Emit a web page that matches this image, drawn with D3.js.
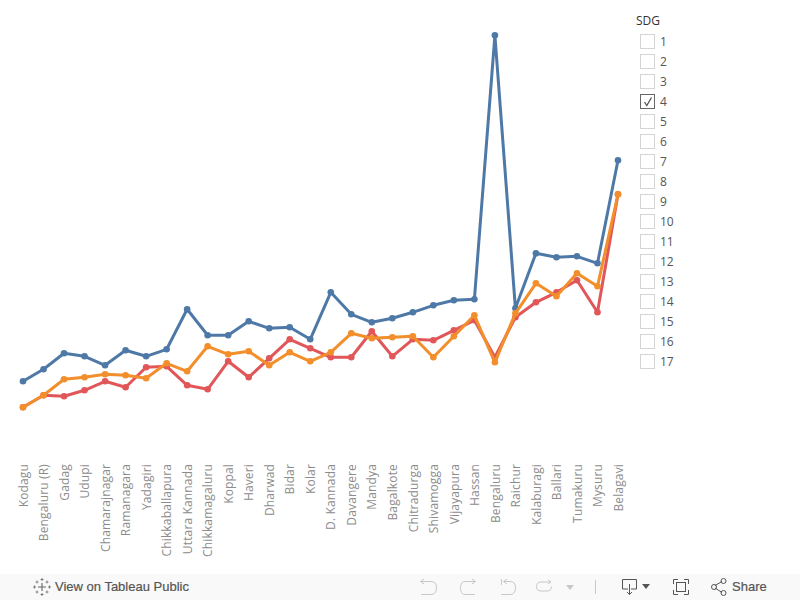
<!DOCTYPE html>
<html>
<head>
<meta charset="utf-8">
<script src="https://cdnjs.cloudflare.com/ajax/libs/d3/7.8.5/d3.min.js"></script>
<style>
    html, body { margin: 0; padding: 0; background: #fff; }
    svg { display: block; }
    text { font-family: "Open Sans", sans-serif; }
    .domain { display: none; }
    .tick line { display: none; }
</style>
</head>
<body>
<svg id="chart"></svg>
<script>
(function(){
    "use strict";

    var districts = ["Kodagu", "Bengaluru (R)", "Gadag", "Udupi", "Chamarajnagar", "Ramanagara", "Yadagiri",
        "Chikkaballapura", "Uttara Kannada", "Chikkamagaluru", "Koppal", "Haveri", "Dharwad", "Bidar", "Kolar",
        "D. Kannada", "Davangere", "Mandya", "Bagalkote", "Chitradurga", "Shivamogga", "Vijayapura", "Hassan",
        "Bengaluru", "Raichur", "Kalaburagi", "Ballari", "Tumakuru", "Mysuru", "Belagavi"];

    var blueValues = [25.2, 27.6, 30.8, 30.2, 28.4, 31.4, 30.2, 31.6, 39.6, 34.4, 34.4, 37.2, 35.8, 36, 33.6,
        43, 38.6, 37, 37.8, 39, 40.4, 41.4, 41.6, 94.4, 39.8, 50.8, 50, 50.2, 48.8, 69.4];
    var redValues = [20, 22.4, 22.2, 23.4, 25.2, 24, 28, 28.2, 24.4, 23.6, 29.2, 26, 29.8, 33.6, 31.8,
        30, 30, 35.2, 30.2, 33.6, 33.4, 35.4, 37.4, 30, 38, 41, 43, 45.4, 39, 62.6];
    var orangeValues = [20, 22.4, 25.6, 26, 26.6, 26.4, 25.8, 28.8, 27.2, 32.2, 30.6, 31.2, 28.4, 31, 29.2,
        31, 34.8, 33.8, 34, 34.2, 30, 34.2, 38.4, 29, 38.8, 44.8, 42.2, 46.8, 44.2, 62.6];

    var sdgGoals = ["1", "2", "3", "4", "5", "6", "7", "8", "9", "10", "11", "12", "13", "14", "15", "16", "17"];
    var checkedGoal = "4";

    var width = 800,
        height = 600;

    var svg = d3.select("svg#chart")
        .attr("width", width)
        .attr("height", height);

    var x = d3.scalePoint().domain(districts).range([23, 618]);
    var y = d3.scaleLinear().domain([20, 94.4]).range([407.3, 35.3]);

    // series, drawn back to front
    var series = [
        {color: "#4e79a7", values: blueValues},
        {color: "#e15759", values: redValues},
        {color: "#f28e2b", values: orangeValues}
    ];

    var line = d3.line()
        .x(function(d, i) { return x(districts[i]); })
        .y(function(d) { return y(d); });

    var groups = svg.selectAll("g.series")
        .data(series)
        .enter().append("g")
        .attr("class", "series");

    groups.append("path")
        .attr("d", function(d) { return line(d.values); })
        .attr("fill", "none")
        .attr("stroke", function(d) { return d.color; })
        .attr("stroke-width", 3)
        .attr("stroke-linejoin", "round");

    groups.selectAll("circle")
        .data(function(d) { return d.values.map(function(v) { return {v: v, color: d.color}; }); })
        .enter().append("circle")
        .attr("cx", function(d, i) { return x(districts[i]); })
        .attr("cy", function(d) { return y(d.v); })
        .attr("r", 3.3)
        .attr("fill", function(d) { return d.color; });

    // district labels
    var axis = svg.append("g")
        .attr("transform", "translate(0,460)")
        .call(d3.axisBottom(x).tickSize(0).tickPadding(0));

    axis.selectAll("text")
        .attr("transform", "rotate(-90)")
        .attr("x", -4)
        .attr("y", 0)
        .attr("dy", "0.35em")
        .style("text-anchor", "end")
        .style("font-family", "'Open Sans', sans-serif")
        .style("font-size", "12px")
        .style("letter-spacing", "0.15px")
        .attr("fill", "#8c8c8c");

    // SDG filter
    var legendY = d3.scalePoint().domain(sdgGoals).range([41, 361]);

    svg.append("text")
        .attr("x", 636)
        .attr("y", 25)
        .attr("font-size", 12)
        .attr("fill", "#333")
        .text("SDG");

    var rows = svg.selectAll("g.goal")
        .data(sdgGoals)
        .enter().append("g")
        .attr("class", "goal")
        .attr("transform", function(d) { return "translate(0," + legendY(d) + ")"; });

    rows.append("rect")
        .attr("x", 640.5)
        .attr("y", -6.5)
        .attr("width", 14)
        .attr("height", 14)
        .attr("fill", "#fff")
        .attr("stroke", function(d) { return d === checkedGoal ? "#666" : "#d4d4d4"; });

    rows.filter(function(d) { return d === checkedGoal; })
        .append("path")
        .attr("d", "M644.5,1 L646.8,4.5 L651.5,-3.5")
        .attr("fill", "none")
        .attr("stroke", "#555")
        .attr("stroke-width", 1.3);

    rows.append("text")
        .attr("x", 660)
        .attr("y", 4.5)
        .attr("font-size", 12)
        .attr("fill", "#555")
        .text(function(d) { return d; });

    // toolbar
    var bar = svg.append("g");
    bar.append("rect")
        .attr("x", 0).attr("y", 574)
        .attr("width", width).attr("height", 26)
        .attr("fill", "#f9f9f9");

    var logo = bar.append("g")
        .attr("transform", "translate(42,587)")
        .attr("stroke", "#666")
        .attr("fill", "none");
    logo.append("path").attr("d", "M-4,0H4M0,-4V4").attr("stroke-width", 1.1);
    logo.append("path").attr("d", "M-1.5,-7.5H1.5M0,-9V-6M-1.5,7.5H1.5M0,6V9M-9,0H-6M-7.5,-1.5V1.5M6,0H9M7.5,-1.5V1.5")
        .attr("stroke-width", 0.8);
    logo.append("path").attr("d", "M-6.5,-5H-3.5M-5,-6.5V-3.5M3.5,-5H6.5M5,-6.5V-3.5M-6.5,5H-3.5M-5,3.5V6.5M3.5,5H6.5M5,3.5V6.5")
        .attr("stroke-width", 0.7);

    bar.append("text")
        .attr("x", 55).attr("y", 591)
        .attr("fill", "#555")
        .style("font-family", "'Liberation Sans', sans-serif")
        .style("font-size", "13px")
        .attr("stroke", "#555")
        .attr("stroke-width", 0.2)
        .text("View on Tableau Public");

    var disabled = bar.append("g")
        .attr("fill", "none")
        .attr("stroke", "#c8c8c8")
        .attr("stroke-width", 1);
    // undo, redo, revert, refresh
    disabled.append("path").attr("d", "M421,581.5H431Q436.5,581.5 436.5,587.5Q436.5,594.5 431,594.5H421M424,579L420.5,581.5L424,584");
    disabled.append("path").attr("d", "M475,581.5H465Q460.5,581.5 460.5,587.5Q460.5,594.5 465,594.5H475M472,579L475.5,581.5L472,584");
    disabled.append("path").attr("d", "M501.5,579V585M504,581.5H510Q515.5,581.5 515.5,587.5Q515.5,594.5 510,594.5H501M507,579L503.5,581.5L507,584");
    disabled.append("path").attr("d", "M550,582H541Q536.5,582 536.5,586.5Q536.5,591 541,591H547Q551.5,591 551.5,586.5M548,580L551,582L548,584");
    bar.append("path").attr("d", "M566,585H574L570,590Z").attr("fill", "#c8c8c8");
    bar.append("path").attr("d", "M595.5,580V594").attr("stroke", "#c8c8c8").attr("fill", "none");

    var active = bar.append("g")
        .attr("fill", "none")
        .attr("stroke", "#555")
        .attr("stroke-width", 1);
    // download
    active.append("path").attr("d", "M628,589H622.5V579.5H636.5V589H631M629.5,584V594.5M627,592L629.5,594.5L632,592");
    bar.append("path").attr("d", "M642,584H650L646,589Z").attr("fill", "#555");
    // fullscreen
    active.append("path").attr("d", "M678,579.5H673.5V584M684,579.5H688.5V584M678,594.5H673.5V590M684,594.5H688.5V590");
    active.append("rect").attr("x", 676.5).attr("y", 582.5).attr("width", 9).attr("height", 9);
    // share
    active.append("path").attr("d", "M715,585.5L722,581.5M715,588L722,592.5");
    active.append("circle").attr("cx", 714).attr("cy", 587).attr("r", 2.5);
    active.append("circle").attr("cx", 723.5).attr("cy", 581).attr("r", 2.5);
    active.append("circle").attr("cx", 723.5).attr("cy", 593).attr("r", 2.5);

    bar.append("text")
        .attr("x", 732).attr("y", 591)
        .attr("fill", "#555")
        .style("font-family", "'Liberation Sans', sans-serif")
        .style("font-size", "13px")
        .attr("stroke", "#555")
        .attr("stroke-width", 0.2)
        .text("Share");
})();
</script>
</body>
</html>
